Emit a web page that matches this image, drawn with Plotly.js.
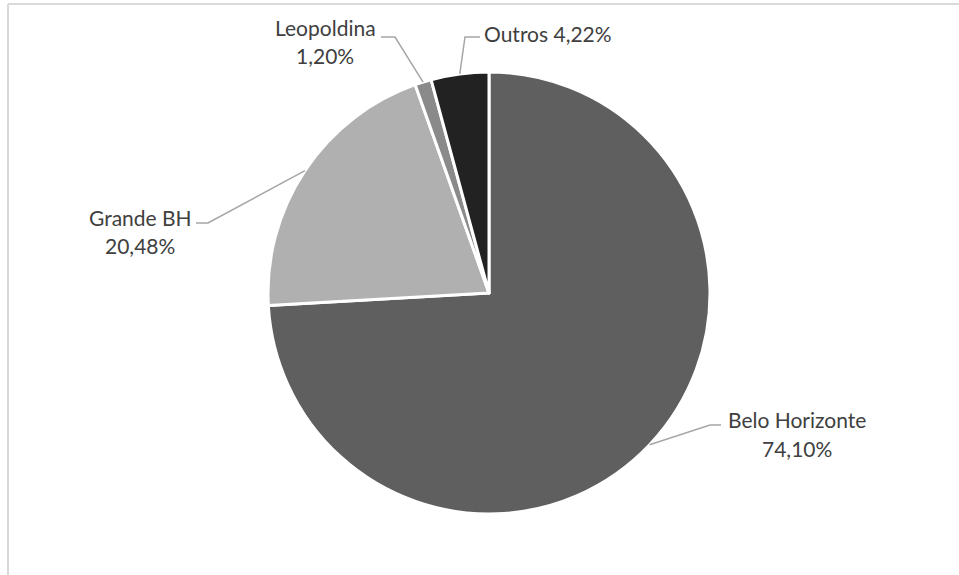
<!DOCTYPE html>
<html>
<head>
<meta charset="utf-8">
<script src="https://cdn.plot.ly/plotly-3.0.1.min.js"></script>
<style>html,body{margin:0;padding:0;background:#fff;}#chart{width:959px;height:575px;}</style>
</head>
<body>
<div id="chart"></div>
<script>
// ---- data ----
const labels = ['Belo Horizonte', 'Grande BH', 'Leopoldina', 'Outros'];
const values = [74.10, 20.48, 1.20, 4.22];
const valueText = ['74,10%', '20,48%', '1,20%', '4,22%'];
const colors = ['#5f5f5f', '#b0b0b0', '#8a8a8a', '#222222'];

// ---- layout helpers (pixels) ----
const W = 959, H = 575;
const cx = 489, cy = 293, R = 221;
// label placement: elbow point, line end, text center, single-line flag
const labelLayout = [
  {elbow: [710, 425], end: [721, 425], text: [797, 419], text2: [797, 448], inline: false},
  {elbow: [208, 223], end: [196, 223], text: [140, 217], text2: [140, 245], inline: false},
  {elbow: [395, 37],  end: [381, 37],  text: [325, 28],  text2: [325, 56],  inline: false},
  {elbow: [465, 37],  end: [480, 37],  text: [482, 33],  inline: true}
];
const px = x => x / W;
const py = y => 1 - y / H;

const total = values.reduce((a, b) => a + b, 0);
const shapes = [];
const annotations = [];
const font = {family: 'Lato, "Open Sans", sans-serif', size: 21, color: '#404040'};
let cum = 0;
values.forEach((v, i) => {
  const mid = (cum + v / 2) / total * 2 * Math.PI; // clockwise from 12 o'clock
  cum += v;
  const ex = cx + R * Math.sin(mid), ey = cy - R * Math.cos(mid);
  const L = labelLayout[i];
  shapes.push({
    type: 'path', xref: 'paper', yref: 'paper',
    path: `M ${px(ex)} ${py(ey)} L ${px(L.elbow[0])} ${py(L.elbow[1])} L ${px(L.end[0])} ${py(L.end[1])}`,
    line: {color: '#a6a6a6', width: 1.5}
  });
  if (L.inline) {
    annotations.push({xref: 'paper', yref: 'paper', x: px(L.text[0]), y: py(L.text[1]),
      xanchor: 'left', yanchor: 'middle', showarrow: false, font: font,
      text: labels[i] + ' ' + valueText[i]});
  } else {
    annotations.push({xref: 'paper', yref: 'paper', x: px(L.text[0]), y: py(L.text[1]),
      xanchor: 'center', yanchor: 'middle', showarrow: false, font: font, text: labels[i]});
    annotations.push({xref: 'paper', yref: 'paper', x: px(L.text2[0]), y: py(L.text2[1]),
      xanchor: 'center', yanchor: 'middle', showarrow: false, font: font, text: valueText[i]});
  }
});

// frame lines of the chart area
shapes.push({type: 'line', xref: 'paper', yref: 'paper', x0: px(8), x1: 1, y0: py(4), y1: py(4),
  line: {color: '#d9d9d9', width: 2}});
shapes.push({type: 'line', xref: 'paper', yref: 'paper', x0: px(8), x1: px(8), y0: py(4), y1: 0,
  line: {color: '#d9d9d9', width: 2}});

const trace = {
  type: 'pie',
  labels: labels,
  values: values,
  sort: false,
  direction: 'clockwise',
  rotation: 0,
  textinfo: 'none',
  hoverinfo: 'label+percent',
  marker: {colors: colors, line: {color: '#ffffff', width: 3}},
  domain: {x: [px(cx - R), px(cx + R)], y: [py(cy + R), py(cy - R)]},
  showlegend: false
};

const layout = {
  width: W, height: H,
  margin: {l: 0, r: 0, t: 0, b: 0},
  paper_bgcolor: '#ffffff',
  showlegend: false,
  shapes: shapes,
  annotations: annotations
};

Plotly.newPlot('chart', [trace], layout, {displayModeBar: false, staticPlot: true});
</script>
</body>
</html>
